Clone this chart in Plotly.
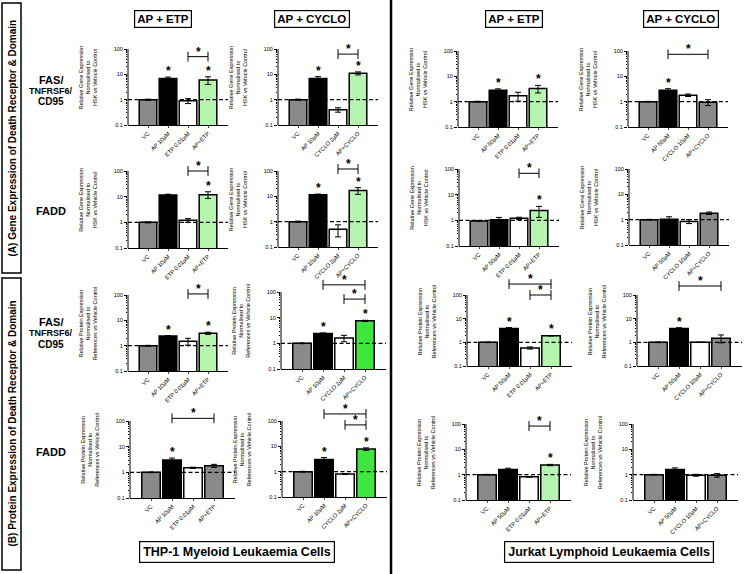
import math
import plotly.graph_objects as go

W, H = 750, 574

# ---------------- data ----------------
labels_thp1_etp = ["VC", "AP 10µM", "ETP 0.01µM", "AP+ETP"]
labels_thp1_cyclo = ["VC", "AP 10µM", "CYCLO 2µM", "AP+CYCLO"]
labels_jurkat_etp = ["VC", "AP 50µM", "ETP 0.01µM", "AP+ETP"]
labels_jurkat_cyclo = ["VC", "AP 50µM", "CYCLO 10µM", "AP+CYCLO"]

# Gene expression (row A)
fas_gene_thp1_etp = [1.0, 6.8, 0.9, 6.0]
fas_gene_thp1_etp_err = [0.05, 1.0, 0.2, 2.0]
fas_gene_thp1_cyclo = [1.0, 6.8, 0.4, 11.0]
fas_gene_thp1_cyclo_err = [0.05, 1.3, 0.08, 1.5]
fas_gene_jurkat_etp = [1.0, 2.8, 1.7, 3.3]
fas_gene_jurkat_etp_err = [0.04, 0.4, 0.65, 1.1]
fas_gene_jurkat_cyclo = [1.0, 2.8, 1.8, 0.95]
fas_gene_jurkat_cyclo_err = [0.03, 0.45, 0.2, 0.25]

fadd_gene_thp1_etp = [1.0, 11.5, 1.2, 12.0]
fadd_gene_thp1_etp_err = [0.05, 1.0, 0.2, 3.5]
fadd_gene_thp1_cyclo = [1.0, 11.5, 0.5, 17.0]
fadd_gene_thp1_cyclo_err = [0.05, 0.8, 0.25, 5.0]
fadd_gene_jurkat_etp = [0.95, 1.05, 1.2, 2.4]
fadd_gene_jurkat_etp_err = [0.03, 0.25, 0.12, 1.1]
fadd_gene_jurkat_cyclo = [1.0, 1.05, 0.85, 1.8]
fadd_gene_jurkat_cyclo_err = [0.03, 0.25, 0.15, 0.2]

# Protein expression (row B)
fas_prot_thp1_etp = [1.0, 2.4, 1.5, 3.1]
fas_prot_thp1_etp_err = [0.03, 0.1, 0.45, 0.3]
fas_prot_thp1_cyclo = [1.0, 2.4, 1.6, 7.5]
fas_prot_thp1_cyclo_err = [0.03, 0.15, 0.45, 0.4]
fas_prot_jurkat_etp = [1.0, 3.8, 0.58, 1.9]
fas_prot_jurkat_etp_err = [0.03, 0.4, 0.06, 0.05]
fas_prot_jurkat_cyclo = [1.0, 3.8, 1.0, 1.5]
fas_prot_jurkat_cyclo_err = [0.03, 0.35, 0.02, 0.55]

fadd_prot_thp1_etp = [1.0, 3.0, 1.5, 1.8]
fadd_prot_thp1_etp_err = [0.03, 0.6, 0.08, 0.25]
fadd_prot_thp1_cyclo = [1.0, 3.0, 0.8, 7.8]
fadd_prot_thp1_cyclo_err = [0.03, 0.6, 0.03, 0.9]
fadd_prot_jurkat_etp = [1.0, 1.6, 0.82, 2.4]
fadd_prot_jurkat_etp_err = [0.03, 0.2, 0.03, 0.15]
fadd_prot_jurkat_cyclo = [1.0, 1.6, 0.95, 0.95]
fadd_prot_jurkat_cyclo_err = [0.03, 0.25, 0.08, 0.15]

# significance: stars above bars (indices) and brackets (from, to, level)
stars = [
    [[1, 3], [1, 3], [1, 3], [1]],
    [[3], [1, 3], [3], []],
    [[1, 3], [1, 3], [1, 3], [1]],
    [[1], [1, 3], [3], []],
]
brackets = [
    [[(2, 3, 50)], [(2, 3, 63)], [], [(1, 3, 74)]],
    [[(2, 3, 100)], [(2, 3, 120)], [(2, 3, 68)], []],
    [[(2, 3, 110)], [(1, 3, 190), (2, 3, 53)], [(1, 3, 290), (2, 3, 100)], [(1, 3, 240)]],
    [[(1, 3, 127)], [(1, 3, 190), (2, 3, 70)], [(2, 3, 83)], []],
]

GRAY, BLACK, WHITE = "#8a8a8a", "#000000", "#ffffff"
LGREEN, BGREEN = "#b5f5b0", "#3ee63e"
combo_colors = [
    [LGREEN, LGREEN, LGREEN, GRAY],
    [LGREEN, LGREEN, LGREEN, GRAY],
    [LGREEN, BGREEN, LGREEN, GRAY],
    [GRAY, BGREEN, LGREEN, GRAY],
]

means = [
    [fas_gene_thp1_etp, fas_gene_thp1_cyclo, fas_gene_jurkat_etp, fas_gene_jurkat_cyclo],
    [fadd_gene_thp1_etp, fadd_gene_thp1_cyclo, fadd_gene_jurkat_etp, fadd_gene_jurkat_cyclo],
    [fas_prot_thp1_etp, fas_prot_thp1_cyclo, fas_prot_jurkat_etp, fas_prot_jurkat_cyclo],
    [fadd_prot_thp1_etp, fadd_prot_thp1_cyclo, fadd_prot_jurkat_etp, fadd_prot_jurkat_cyclo],
]
errs = [
    [fas_gene_thp1_etp_err, fas_gene_thp1_cyclo_err, fas_gene_jurkat_etp_err, fas_gene_jurkat_cyclo_err],
    [fadd_gene_thp1_etp_err, fadd_gene_thp1_cyclo_err, fadd_gene_jurkat_etp_err, fadd_gene_jurkat_cyclo_err],
    [fas_prot_thp1_etp_err, fas_prot_thp1_cyclo_err, fas_prot_jurkat_etp_err, fas_prot_jurkat_cyclo_err],
    [fadd_prot_thp1_etp_err, fadd_prot_thp1_cyclo_err, fadd_prot_jurkat_etp_err, fadd_prot_jurkat_cyclo_err],
]
col_labels = [labels_thp1_etp, labels_thp1_cyclo, labels_jurkat_etp, labels_jurkat_cyclo]

y_titles = [
    "Relative Gene Expression<br>Normalised to<br>HSK vs Vehicle Control",
    "Relative Gene Expression<br>Normalised to<br>HSK vs Vehicle Control",
    "Relative Protein Expression<br>Normalised to<br>References vs Vehicle Control",
    "Relative Protein Expression<br>Normalised to<br>References vs Vehicle Control",
]

# ---------------- layout geometry (pixels) ----------------
# (left, width, y_at_100, y_at_0.1)
geom = [
    [(128, 100, 49, 125), (278, 100, 49, 125), (458, 100, 51, 127), (628, 100, 51, 127)],
    [(128, 100, 171, 248), (278, 100, 171, 247), (459, 100, 169, 246), (629, 100, 169, 245)],
    [(128, 100, 295, 371), (281, 105, 292, 369), (467, 105, 295, 366), (637, 105, 295, 366)],
    [(130, 105, 421, 498), (282, 105, 421, 497), (466, 105, 424, 500), (633, 105, 424, 500)],
]
YTOP = 2.75  # log10 of top of axis range (headroom for brackets)

FONT = "Arial, Liberation Sans, sans-serif"
fig = go.Figure()
layout = dict(width=W, height=H, margin=dict(l=0, r=0, t=0, b=0, autoexpand=False),
              paper_bgcolor="white", plot_bgcolor="white", showlegend=False,
              font=dict(family=FONT, color="black"))
shapes, annotations = [], []

minor_vals = [m * 10 ** e for e in (-1, 0, 1) for m in range(2, 10)]


def px_x(p):
    return p / W


def px_y(p):
    return 1 - p / H


def paper_text(x, y, text, size, **kw):
    d = dict(x=px_x(x), y=px_y(y), xref="paper", yref="paper", text=text,
             showarrow=False, xanchor="center", yanchor="middle",
             font=dict(size=size, family=FONT, color="black"))
    d.update(kw)
    return d


STAR = dict(size=12, family=FONT, color="black")

for r in range(4):
    for c in range(4):
        n = r * 4 + c + 1
        xs = "x" if n == 1 else f"x{n}"
        ys = "y" if n == 1 else f"y{n}"
        left, wid, y100, y01 = geom[r][c]
        pdec = (y01 - y100) / 3.0
        ytop_px = y100 - (YTOP - 2) * pdec
        xd = [px_x(left), px_x(left + wid)]
        yd = [px_y(y01), px_y(ytop_px)]

        vals = means[r][c]
        er = errs[r][c]
        colors = [GRAY, BLACK, WHITE, combo_colors[r][c]]
        fig.add_trace(go.Bar(
            x=[0, 1, 2, 3], y=vals, width=0.88,
            marker=dict(color=colors, line=dict(color="black", width=1.5)),
            error_y=dict(type="data", array=er, visible=True, color="black",
                         thickness=1, width=3),
            xaxis=xs, yaxis=ys, hoverinfo="skip"))

        # brackets
        for (a, b, lv) in brackets[r][c]:
            fig.add_trace(go.Scatter(
                x=[a, b], y=[lv, lv], mode="lines+markers",
                line=dict(color="black", width=1),
                marker=dict(symbol="line-ns", size=7, line=dict(color="black", width=1)),
                xaxis=xs, yaxis=ys, hoverinfo="skip", cliponaxis=False))
            annotations.append(dict(x=(a + b) / 2, y=math.log10(lv), xref=xs, yref=ys,
                                    text="<b>*</b>", showarrow=False, xanchor="center",
                                    yanchor="bottom", yshift=-4, font=STAR))
        # stars over bars
        for i in stars[r][c]:
            annotations.append(dict(x=i, y=math.log10(vals[i] + er[i]), xref=xs, yref=ys,
                                    text="<b>*</b>", showarrow=False, xanchor="center",
                                    yanchor="bottom", yshift=-3, font=STAR))

        layout["xaxis" + ("" if n == 1 else str(n))] = dict(
            domain=xd, anchor=ys, range=[-1, 4], tickmode="array",
            tickvals=[0, 1, 2, 3], ticktext=col_labels[c], tickangle=-45,
            tickfont=dict(size=5.8, family=FONT, color="black"), ticks="outside", ticklen=2,
            tickwidth=1, showline=True, linecolor="black", linewidth=1,
            showgrid=False, zeroline=False, fixedrange=True, automargin=False)
        layout["yaxis" + ("" if n == 1 else str(n))] = dict(
            domain=yd, anchor=xs, type="log", range=[-1, YTOP],
            tickmode="array", tickvals=[0.1, 1, 10, 100],
            ticktext=["0.1", "1", "10", "100"],
            tickfont=dict(size=5.5, family=FONT, color="black"),
            ticks="outside", ticklen=3, tickwidth=1, tickcolor="black",
            minor=dict(tickmode="array", tickvals=minor_vals, ticks="outside",
                       ticklen=1.5, tickwidth=0.6, tickcolor="black", showgrid=False),
            showline=False, showgrid=False, zeroline=False, fixedrange=True,
            automargin=False,
            title=dict(text=y_titles[r], font=dict(size=5.5, family=FONT, color="black")))

        # visible y-axis line (0.1 .. 100)
        shapes.append(dict(type="line", xref=xs + " domain", x0=0, x1=0,
                           yref=ys, y0=0.1, y1=100,
                           line=dict(color="black", width=1)))
        # dashed reference line at 1
        shapes.append(dict(type="line", xref=xs + " domain", x0=0, x1=1,
                           yref=ys, y0=1, y1=1,
                           line=dict(color="black", width=1.4, dash="4px,2.5px")))

# ---------------- decorations ----------------
# vertical divider
shapes.append(dict(type="line", xref="paper", yref="paper", x0=px_x(391), x1=px_x(391),
                   y0=0, y1=1, line=dict(color="black", width=2.5)))
# left section boxes
for (y0, y1) in [(3, 273), (278, 570)]:
    shapes.append(dict(type="rect", xref="paper", yref="paper",
                       x0=px_x(2), x1=px_x(21), y0=px_y(y1), y1=px_y(y0),
                       line=dict(color="black", width=1.5), fillcolor="white"))
annotations.append(paper_text(11.5, 138, "<b>(A) Gene Expression of Death Receptor & Domain</b>",
                              10, textangle=-90))
annotations.append(paper_text(11.5, 424, "<b>(B) Protein Expression of Death Receptor & Domain</b>",
                              10, textangle=-90))

# column headers
for (cx, txt) in [(163, "AP + ETP"), (312, "AP + CYCLO"), (514, "AP + ETP"), (681, "AP + CYCLO")]:
    annotations.append(paper_text(cx, 19, f"<b>{txt}</b>", 11.5,
                                  bordercolor="black", borderwidth=1.2, borderpad=2,
                                  bgcolor="white"))

# row labels
for (cy, big) in [(91, True), (211, False), (333, True), (452, False)]:
    if big:
        annotations.append(paper_text(51, cy - 11, "<b>FAS/</b>", 11))
        annotations.append(paper_text(51, cy, "<b>TNFRSF6/</b>", 9))
        annotations.append(paper_text(51, cy + 11, "<b>CD95</b>", 10))
    else:
        annotations.append(paper_text(51, cy, "<b>FADD</b>", 11))

# bottom cell-line labels
for (cx, txt) in [(237, "THP-1 Myeloid Leukaemia Cells"), (609, "Jurkat Lymphoid Leukaemia Cells")]:
    annotations.append(paper_text(cx, 552, f"<b>{txt}</b>", 12.5,
                                  bordercolor="black", borderwidth=1.2, borderpad=3,
                                  bgcolor="white"))

layout["shapes"] = shapes
layout["annotations"] = annotations
fig.update_layout(**layout)
fig.write_html("out.html", config={"displayModeBar": False},
               post_script="document.body.style.margin='0px';")
